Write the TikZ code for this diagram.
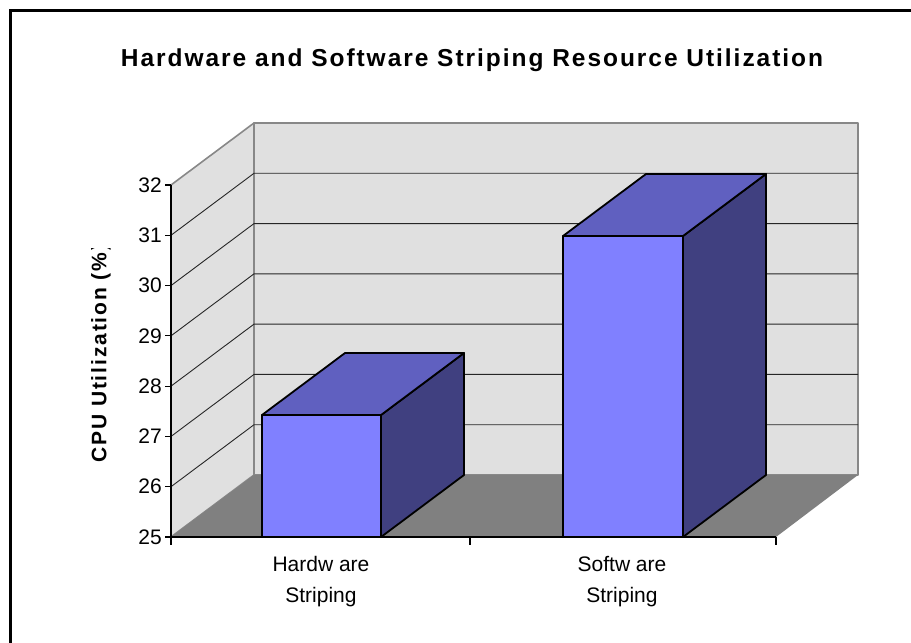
\documentclass[tikz,border=0pt]{standalone}
\usepackage{fontspec}
\setmainfont{Liberation Sans}
\newfontfamily\titlefont[LetterSpace=8]{Liberation Sans Bold}
\newfontfamily\axistitlefont[LetterSpace=9]{Liberation Sans Bold}
\begin{document}
\begin{tikzpicture}[x=1pt,y=-1pt,
  wall/.style={fill=wallgray,draw=edgegray,line width=1.6pt,line join=round},
  grid/.style={draw=black!85,line width=0.9pt},
  barface/.style={draw=black,line width=1.8pt,line join=round},
  axisline/.style={draw=black,line width=1.1pt},
  ticklbl/.style={anchor=east,inner sep=0pt,font=\fontsize{21}{24}\selectfont},
  catlbl/.style={align=center,inner sep=0pt,font=\fontsize{21}{31}\selectfont}]
\definecolor{wallgray}{RGB}{224,224,224}
\definecolor{floorgray}{RGB}{128,128,128}
\definecolor{edgegray}{RGB}{136,136,136}
\definecolor{barfront}{RGB}{128,128,255}
\definecolor{bartop}{RGB}{96,96,192}
\definecolor{barside}{RGB}{64,64,128}
\useasboundingbox (0,0) rectangle (911,643);
\fill[white] (0,0) rectangle (911,643);
% chart frame
\draw[line width=3pt] (10,650) -- (10,10) -- (920,10);

% title
\node[font=\titlefont\fontsize{24.5}{28}\selectfont] (title) at (472,60) {Hardware and Software Striping Resource Utilization};

% walls
\draw[wall] (171,537) -- (171,185) -- (254,123) -- (254,475) -- cycle;
\draw[wall] (254,123) -- (858,123) -- (858,475) -- (254,475) -- cycle;
% grid lines (values 26..31)
\foreach \v in {26,...,31}{
  \pgfmathsetmacro{\yf}{537-(\v-25)*50.286}
  \draw[grid] (171,\yf) -- (254,\yf-62) -- (858,\yf-62);
}
% floor
\fill[floorgray] (171,537) -- (776,537) -- (858,475) -- (254,475) -- cycle;

% Hardware bar
\filldraw[barface,fill=barside] (381,537) -- (464,475) -- (464,353) -- (381,415) -- cycle;
\filldraw[barface,fill=bartop] (262,415) -- (345,353) -- (464,353) -- (381,415) -- cycle;
\filldraw[barface,fill=barfront] (262,537) rectangle (381,415);
% Software bar
\filldraw[barface,fill=barside] (683,537) -- (766,475) -- (766,174) -- (683,236) -- cycle;
\filldraw[barface,fill=bartop] (563,236) -- (646,174) -- (766,174) -- (683,236) -- cycle;
\filldraw[barface,fill=barfront] (563,537) rectangle (683,236);

% axes
\draw[axisline] (171,185) -- (171,537) -- (776,537);
\foreach \v in {25,...,32}{
  \pgfmathsetmacro{\yf}{537-(\v-25)*50.286}
  \draw[axisline] (165,\yf) -- (171,\yf);
  \node[ticklbl] (t\v) at (162,\yf) {\v};
}
\foreach \x in {171,470,776}{
  \draw[axisline] (\x,537) -- (\x,545);
}
\node[catlbl] (hw) at (321,582) {Hardw are\\Striping};
\node[catlbl] (sw) at (622,582) {Softw are\\Striping};

% axis title, cut off at its upper end
\begin{scope}
  \clip (60,248) rectangle (140,480);
  \node[rotate=90,font=\axistitlefont\fontsize{21}{24}\selectfont,anchor=west,inner sep=0pt] (ytitle) at (101,463) {CPU Utilization (\%)};
\end{scope}
\end{tikzpicture}
\end{document}
